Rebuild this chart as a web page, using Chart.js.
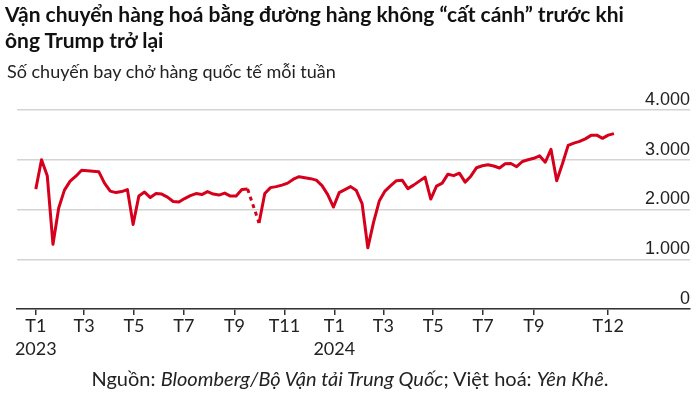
<!DOCTYPE html>
<html>
<head>
<meta charset="utf-8">
<script src="https://cdn.jsdelivr.net/npm/chart.js@4.4.1/dist/chart.umd.min.js"></script>
<style>
  html, body { margin: 0; padding: 0; background: #fff; }
  #wrap { position: relative; width: 700px; height: 394px; overflow: hidden; font-family: Lato, sans-serif; color: #222; }
  #chartBox { position: absolute; left: 0; top: 0; width: 700px; height: 394px; }
  h1 { position: absolute; left: 5px; top: 1px; margin: 0; font-size: 21px; line-height: 26px; font-weight: 700; color: #111; }
  .sub { position: absolute; left: 7px; top: 60px; font-size: 18px; }
  .src { position: absolute; left: 0; width: 700px; top: 366px; line-height: 24px; text-align: center; font-size: 20px; }
</style>
</head>
<body>
<div id="wrap">
  <div id="chartBox"><canvas id="flightsChart"></canvas></div>
  <h1>Vận chuyển hàng hoá bằng đường hàng không “cất cánh” trước khi<br>ông Trump trở lại</h1>
  <div class="sub">Số chuyến bay chở hàng quốc tế mỗi tuần</div>
  <div class="src">Nguồn: <i>Bloomberg/Bộ Vận tải Trung Quốc</i>; Việt hoá: <i>Yên Khê</i>.</div>
</div>
<script>
// weekly series, first week starting 2023-01-01 (null = missing week, drawn dashed)
const startDate = '2023-01-01';
const weeklyFlights = [
  2410, 3000, 2680, 1300, 2030, 2390, 2570, 2670, 2790, 2780,
  2770, 2760, 2530, 2370, 2340, 2360, 2400, 1700, 2270, 2350,
  2240, 2320, 2310, 2250, 2160, 2150, 2220, 2280, 2320, 2300,
  2360, 2310, 2290, 2330, 2270, 2270, 2400, 2410, null, 1730,
  2320, 2440, 2460, 2490, 2530, 2610, 2660, 2640, 2620, 2590,
  2480, 2300, 2050, 2340, 2400, 2460, 2380, 2120, 1230, 1740,
  2170, 2370, 2480, 2580, 2590, 2420, 2490, 2570, 2650, 2210,
  2470, 2530, 2710, 2680, 2730, 2550, 2670, 2840, 2880, 2900,
  2875, 2835, 2920, 2925, 2860, 2965, 3000, 3030, 3080, 2950,
  3210, 2580, 2920, 3290, 3335, 3370, 3420, 3490, 3495, 3430,
  3495, 3525
];

// x-axis ticks (month starts) and their labels
const tickDates = ['2023-01-01', '2023-03-01', '2023-05-01', '2023-07-01', '2023-09-01', '2023-11-01',
                   '2024-01-01', '2024-03-01', '2024-05-01', '2024-07-01', '2024-09-01', '2024-12-01'];
const tickLabels = [['T1', '2023'], 'T3', 'T5', 'T7', 'T9', 'T11',
                    ['T1', '2024'], 'T3', 'T5', 'T7', 'T9', 'T12'];
const yTicks = [0, 1000, 2000, 3000, 4000];

const DAY = 86400000;
function dayOf(s) {
  return Math.round((Date.parse(s + 'T00:00:00Z') - Date.parse(startDate + 'T00:00:00Z')) / DAY);
}
const points = weeklyFlights.map((v, i) => ({ x: i * 7, y: v }));
const tickDays = tickDates.map(dayOf);

const ctx = document.getElementById('flightsChart').getContext('2d');
new Chart(ctx, {
  type: 'line',
  data: {
    datasets: [{
      data: points,
      borderColor: '#d6001c',
      borderWidth: 3,
      pointRadius: 0,
      tension: 0,
      borderJoinStyle: 'round',
      borderCapStyle: 'butt',
      spanGaps: true,
      segment: {
        borderDash: c => (c.p0.skip || c.p1.skip || c.p1DataIndex - c.p0DataIndex > 1) ? [4, 4] : undefined
      }
    }]
  },
  options: {
    responsive: true,
    maintainAspectRatio: false,
    animation: false,
    layout: { padding: { left: 17, right: 10, top: 110, bottom: 34 } },
    plugins: { legend: { display: false }, tooltip: { enabled: false } },
    scales: {
      x: {
        type: 'linear',
        min: -23,
        max: 800,
        afterBuildTicks: scale => { scale.ticks = tickDays.map(d => ({ value: d })); },
        grid: { drawOnChartArea: false, drawTicks: true, tickLength: 6, color: '#333', lineWidth: 1.5 },
        border: { display: true, color: '#333', width: 1.5 },
        ticks: {
          autoSkip: false,
          maxRotation: 0,
          padding: 0,
          color: '#222',
          font: { family: 'Lato', size: 18, lineHeight: 1.25 },
          callback: (value, index) => tickLabels[index]
        }
      },
      y: {
        position: 'right',
        min: 0,
        max: 4000,
        afterBuildTicks: scale => { scale.ticks = yTicks.map(v => ({ value: v })); },
        grid: { color: '#d4d4d4', lineWidth: 1.5, drawTicks: false },
        border: { display: false },
        ticks: {
          mirror: true,
          padding: 0,
          labelOffset: -10,
          color: '#222',
          font: { family: 'Liberation Sans', size: 18 },
          callback: v => String(v).replace(/\B(?=(\d{3})+(?!\d))/g, '.')
        }
      }
    }
  }
});
</script>
</body>
</html>
